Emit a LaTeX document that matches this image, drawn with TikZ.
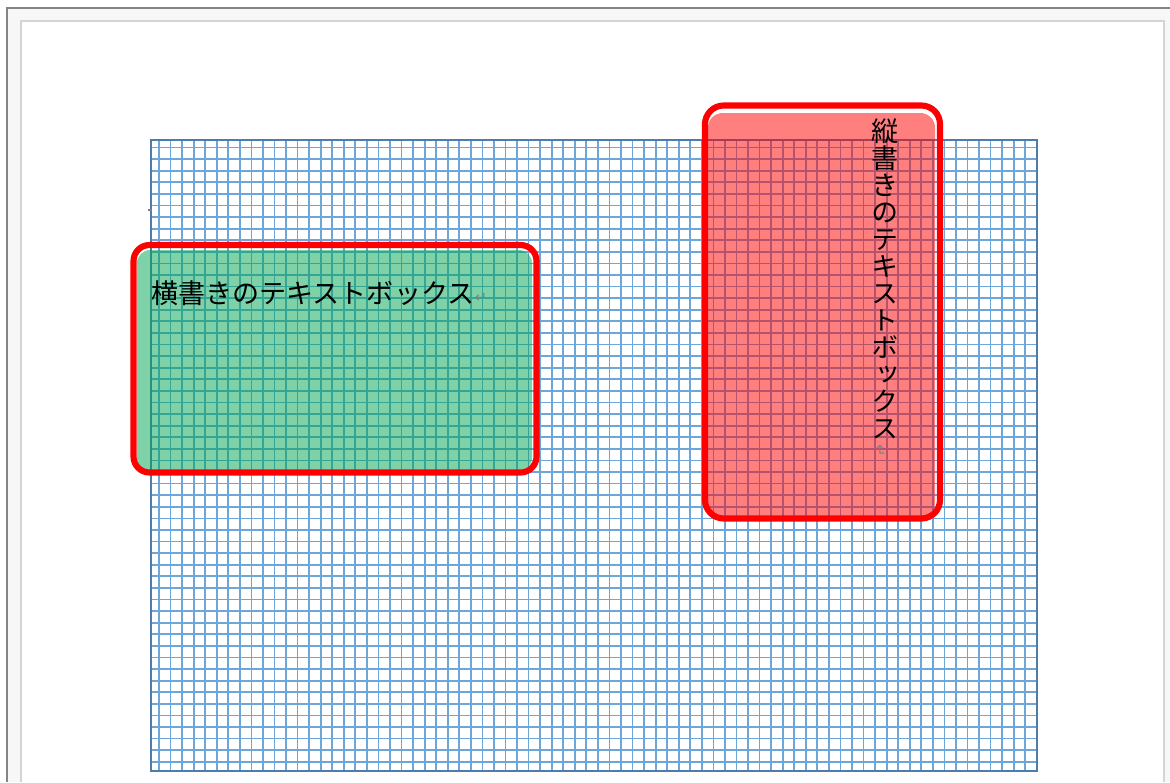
\documentclass[tikz,border=0pt]{standalone}
\usepackage{fontspec}
\newfontfamily\jp{Noto Sans CJK JP}
\newfontfamily\jpv[RawFeature=+vert]{Noto Sans CJK JP}
\newfontfamily\symf{DejaVu Sans}
\definecolor{gridblue}{RGB}{110,166,218}
\definecolor{gridedge}{RGB}{78,124,172}
\definecolor{framegray}{RGB}{132,132,132}
\definecolor{pagegray}{RGB}{212,212,212}
\definecolor{bandgray}{RGB}{247,247,247}
\definecolor{boxgreen}{RGB}{0,166,80}
\definecolor{boxred}{RGB}{255,0,0}
\definecolor{markgray}{RGB}{128,128,128}
\tikzset{
  gridline/.style={draw=gridblue, line width=1.3pt},
  gridframe/.style={draw=gridedge, line width=1.5pt},
  boxborder/.style={draw=boxred, line width=4.6pt},
  txt/.style={inner sep=0pt, text=black},
  retmark/.style={inner sep=0pt, text=markgray, font=\symf\fontsize{11}{11}\selectfont}
}
\begin{document}
\begin{tikzpicture}[x=0.75pt, y=-0.75pt]
\useasboundingbox (0,0) rectangle (1170,782);
% window background and frames
\fill[white] (0,0) rectangle (1170,782);
\fill[bandgray] (7,7) rectangle (1170,782);
\fill[white] (21,22) rectangle (1163,782);
\draw[framegray, line width=1.5pt] (7,782) -- (7,7.5) -- (1170,7.5);
\draw[pagegray, line width=1.5pt] (20.7,782) -- (20.7,21) -- (1163.5,21) -- (1163.5,782);
% grid paper
\foreach \i in {0,...,75} {
  \draw[gridline] ({159+11.55*\i},140) -- ({159+11.55*\i},771);
}
\foreach \j in {0,...,53} {
  \draw[gridline] (151,{147.5+11.59*\j}) -- (1037,{147.5+11.59*\j});
}
\draw[gridframe] (151,140) rectangle (1037,771);
% small anchor mark
\draw[markgray, line width=1.2pt] (147.5,210) -- (152,210);
% horizontal text box
\fill[boxgreen, fill opacity=0.5, rounded corners=10pt] (137,250) rectangle (532,471);
\draw[boxborder, rounded corners=12pt] (133.5,245) rectangle (536.5,472.5);
% vertical text box
\fill[boxred, fill opacity=0.5, rounded corners=11pt] (708,113) rectangle (935,517);
\draw[boxborder, rounded corners=14pt] (705,105.5) rectangle (940,518.5);
% texts
\node[txt, anchor=west, font=\jp\fontsize{20.3}{20.3}\selectfont] (htext) at (151,293)
  {横書きのテキストボックス};
\node[retmark] (hret) at (481,298) {↵};
\node[txt, anchor=north, align=center, font=\jpv\fontsize{20.3}{20.3}\selectfont] (vtext) at (885,118)
  {縦\\書\\き\\の\\テ\\キ\\ス\\ト\\ボ\\ッ\\ク\\ス};
\node[retmark, rotate=-90] (vret) at (880,451) {↵};
\end{tikzpicture}
\end{document}
